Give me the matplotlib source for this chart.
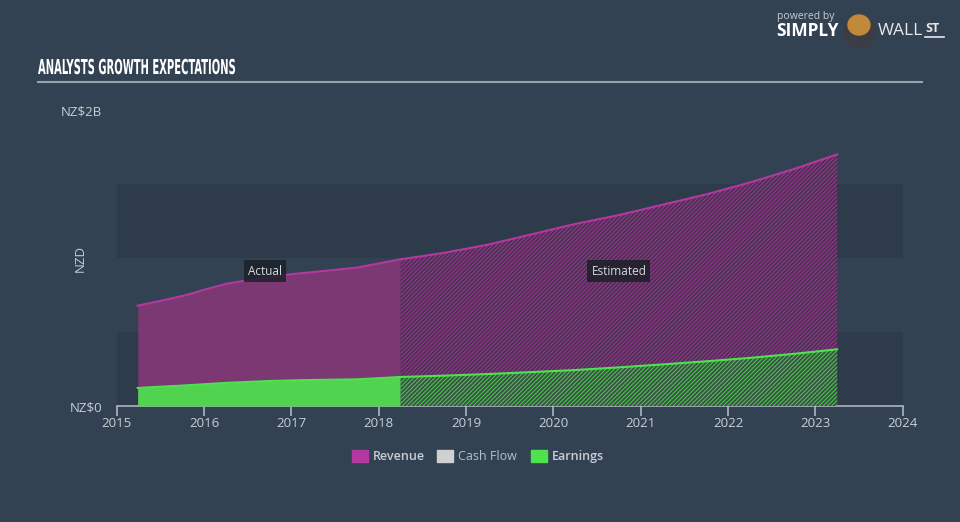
import matplotlib
matplotlib.use("Agg")
import matplotlib.pyplot as plt
from matplotlib.patches import Rectangle, Ellipse
from matplotlib.patheffects import AbstractPathEffect
from matplotlib.transforms import Affine2D
import matplotlib as mpl

mpl.rcParams['hatch.linewidth'] = 0.8

# ---- data (NZ$ billions) ----
rev_act_x = [2015.24, 2015.5, 2015.8, 2016.0, 2016.25, 2016.56, 2017.02, 2017.25, 2017.75, 2018.25]
rev_act_y = [0.678, 0.71, 0.75, 0.785, 0.825, 0.856, 0.892, 0.905, 0.935, 0.991]
rev_est_x = [2018.25, 2018.75, 2019.25, 2019.75, 2020.25, 2020.75, 2021.25, 2021.75, 2022.25, 2022.75, 2023.25]
rev_est_y = [0.991, 1.035, 1.09, 1.16, 1.23, 1.29, 1.36, 1.43, 1.51, 1.60, 1.70]
earn_act_x = [2015.24, 2015.75, 2016.25, 2016.75, 2017.25, 2017.75, 2018.25]
earn_act_y = [0.122, 0.138, 0.156, 0.169, 0.176, 0.180, 0.196]
earn_est_x = [2018.25, 2018.75, 2019.25, 2019.75, 2020.25, 2020.75, 2021.25, 2021.75, 2022.25, 2022.75, 2023.25]
earn_est_y = [0.196, 0.205, 0.216, 0.229, 0.243, 0.261, 0.281, 0.302, 0.325, 0.352, 0.383]
x_ticks = list(range(2015, 2025))
y_ticks = [0, 2]
y_tick_labels = ["NZ$0", "NZ$2B"]
legend_labels = ["Revenue", "Cash Flow", "Earnings"]

BG = "#334252"
BAND = "#2e3b4a"
TXT = "#c9ced4"
REV_LINE = "#b3389f"
REV_FILL = "#7b3873"
EARN_LINE = "#4fe24f"
EARN_FILL = "#50d450"


class Squeeze(AbstractPathEffect):
    """Horizontally condense text glyphs about a fixed x (display px)."""
    def __init__(self, sx, x0):
        super().__init__()
        self.sx = sx
        self.x0 = x0

    def draw_path(self, renderer, gc, tpath, affine, rgbFace=None):
        t = affine + Affine2D().translate(-self.x0, 0).scale(self.sx, 1).translate(self.x0, 0)
        renderer.draw_path(gc, tpath, t, rgbFace)


fig = plt.figure(figsize=(9.6, 5.22), dpi=100, facecolor=BG)
ax = fig.add_axes([116.7/960, 1-406/522, (902.7-116.7)/960, (406-110)/522])
ax.set_facecolor(BG)
ax.set_xlim(2015, 2024)
ax.set_ylim(0, 2.0)

# bands
for lo, hi in [(0, 0.5), (1.0, 1.5)]:
    ax.axhspan(lo, hi, color=BAND, zorder=0, lw=0)

# actual
ax.fill_between(rev_act_x, 0, rev_act_y, color=REV_FILL, lw=0, zorder=2)
ax.plot(rev_act_x, rev_act_y, color=REV_LINE, lw=1.5, zorder=4)
ax.fill_between(earn_act_x, 0, earn_act_y, color=EARN_FILL, lw=0, zorder=3)
ax.plot(earn_act_x, earn_act_y, color=EARN_LINE, lw=1.5, zorder=4)

# estimated (hatched)
h = "////////"
ax.fill_between(rev_est_x, 0, rev_est_y, facecolor="#4a3150", edgecolor="#963890", hatch=h, lw=0, zorder=2)
ax.plot(rev_est_x, rev_est_y, color=REV_LINE, lw=1.5, zorder=4)
ax.fill_between(earn_est_x, 0, earn_est_y, facecolor="#3a5048", edgecolor="#4cc04c", hatch=h, lw=0, zorder=3)
ax.plot(earn_est_x, earn_est_y, color=EARN_LINE, lw=1.5, zorder=4)

# labels Actual / Estimated
for xx, s in [(2016.7, "Actual"), (2020.75, "Estimated")]:
    ax.text(xx, 0.912, s, ha="center", va="center", color="#d8dadd", fontsize=8.5,
            family="Open Sans", zorder=6,
            bbox=dict(boxstyle="square,pad=0.35", fc="#1c2029", ec="none", alpha=0.85))

# axes styling
for sp in ["top", "right", "left"]:
    ax.spines[sp].set_visible(False)
ax.spines["bottom"].set_color("#aeb6bf")
ax.spines["bottom"].set_linewidth(1.2)
ax.set_xticks(x_ticks)
ax.set_xticklabels([str(t) for t in x_ticks])
ax.tick_params(axis="x", colors="#aeb6bf", labelcolor=TXT, length=7, width=1.2, labelsize=9.5, pad=1)
for lbl in ax.get_xticklabels():
    lbl.set_family("Open Sans")
ax.set_yticks(y_ticks)
ax.set_yticklabels(y_tick_labels)
ax.tick_params(axis="y", length=0, labelcolor=TXT, labelsize=9.5, pad=10.5)
for lbl in ax.get_yticklabels():
    lbl.set_family("Open Sans")
ax.set_ylabel("NZD", color=TXT, fontsize=9.5, family="Open Sans")
ax.yaxis.set_label_coords((87-116.7)/786, 0.5)

# title (condensed display face approximated by squeezing DejaVu Sans Condensed Bold)
fig.text(38/960, 1-68/522, "ANALYSTS GROWTH EXPECTATIONS", color="white", fontsize=14.8,
         fontweight="bold", family="DejaVu Sans", fontstretch="condensed", va="center", ha="left",
         path_effects=[Squeeze(0.54, 38)])
fig.add_artist(plt.Line2D([38/960, 922/960], [1-82/522, 1-82/522], color="#9aa2ab", lw=1.5))

# legend
leg_colors = [REV_LINE, "#d0d0d0", EARN_LINE]
leg_x = [352, 437, 531]
for lx, c, s in zip(leg_x, leg_colors, legend_labels):
    fig.add_artist(Rectangle((lx/960, 1-462/522), 16/960, 12/522, color=c, transform=fig.transFigure))
    fig.text((lx+21)/960, 1-456.5/522, s, color=TXT if s != "Cash Flow" else "#b8bec6",
             fontsize=9, family="Open Sans", va="center", ha="left",
             fontweight="semibold" if s != "Cash Flow" else "normal")

# logo
fig.text(777/960, 1-17/522, "powered by", color="#c8ccd0", fontsize=7.5, family="Open Sans", va="center")
fig.text(776/960, 1-31/522, "SIMPLY", color="white", fontsize=12.5, fontweight="bold", family="Open Sans", va="center")
fig.text(878/960, 1-31/522, "WALL", color="#e6e8ea", fontsize=12.5, family="Open Sans", va="center")
fig.text(925/960, 1-29/522, "ST", color="#e6e8ea", fontsize=9, fontweight="bold", family="Open Sans", va="center")
fig.add_artist(plt.Line2D([925/960, 944/960], [1-37/522, 1-37/522], color="#e6e8ea", lw=1.2))
fig.add_artist(Ellipse((860/960, 1-32/522), 32/960, 32/522, color="#3c3c44", transform=fig.transFigure))
fig.add_artist(Ellipse((859/960, 1-25/522), 22/960, 20/522, color="#c08a3a", transform=fig.transFigure))

fig.savefig("out.png", dpi=100, facecolor=BG)
